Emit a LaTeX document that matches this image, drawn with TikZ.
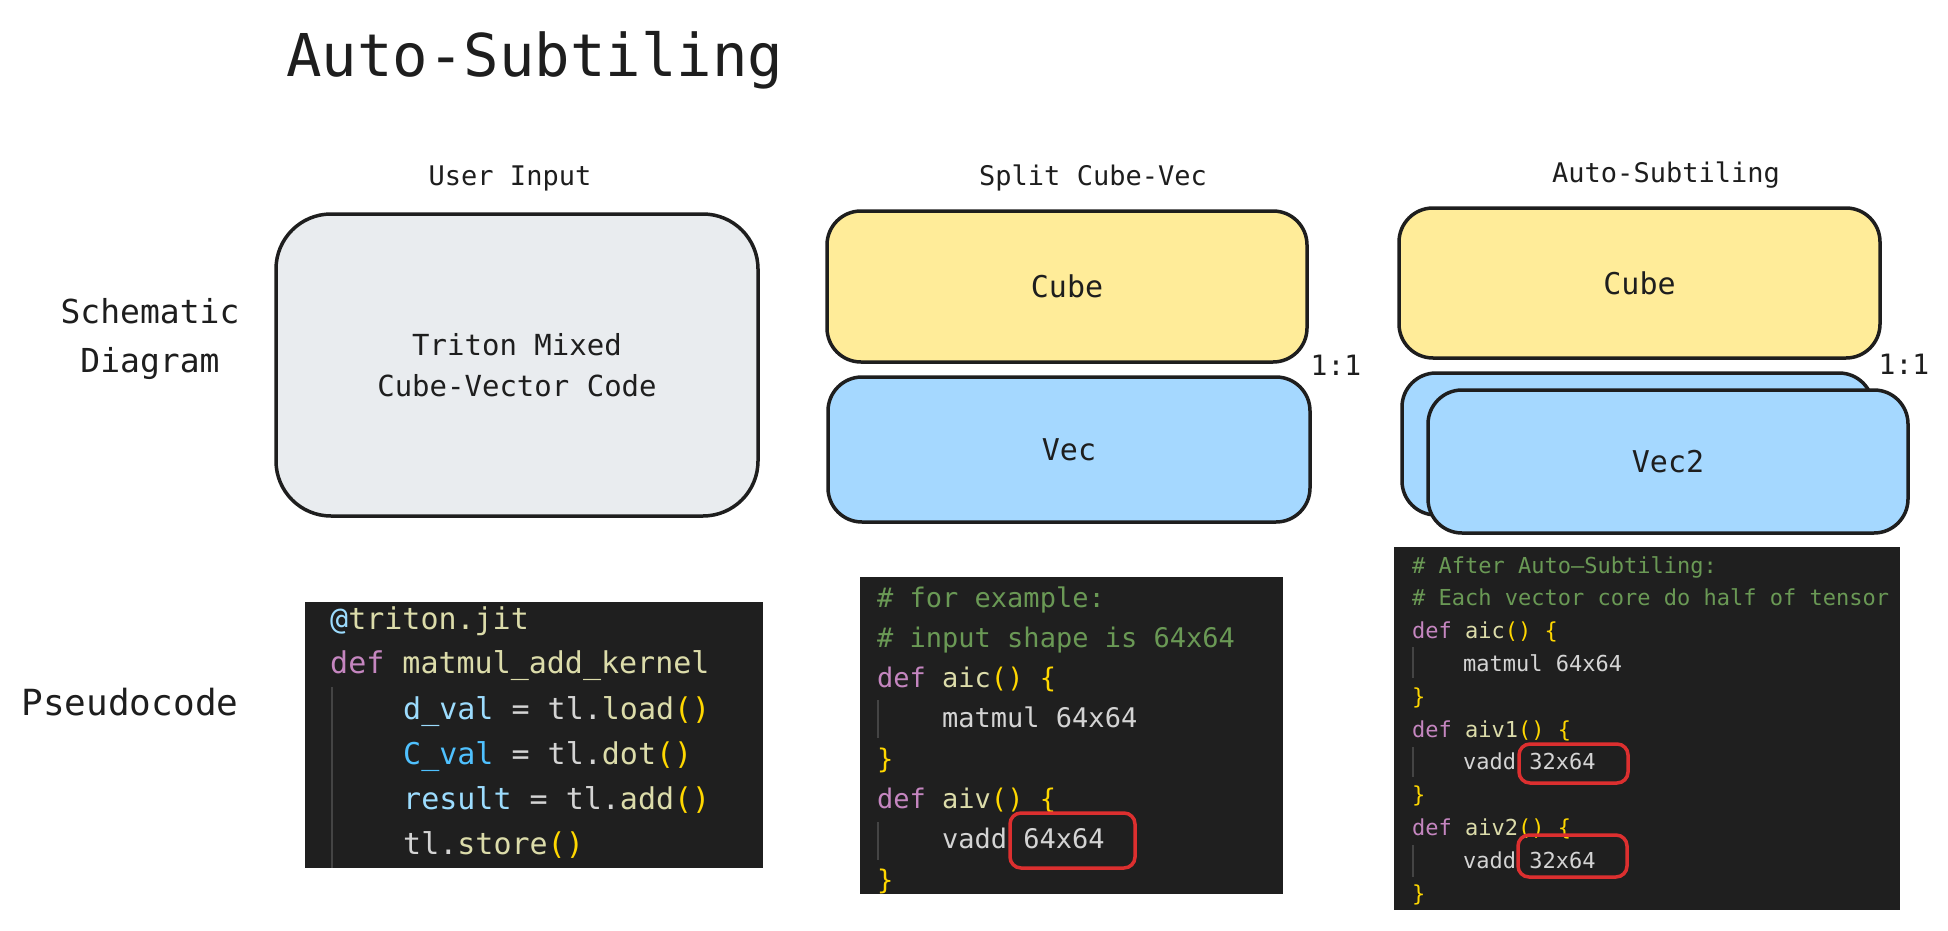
\documentclass[tikz,border=0pt]{standalone}
\usepackage{fontspec}
\setmainfont{DejaVu Sans Mono}
\newfontfamily\codefont{DejaVu Sans Mono}
\definecolor{ink}{HTML}{1E1E1E}
\definecolor{graybox}{HTML}{E9ECEF}
\definecolor{yellowbox}{HTML}{FFEC99}
\definecolor{bluebox}{HTML}{A5D8FF}
\definecolor{codebg}{HTML}{1F1F1F}
\definecolor{ccom}{HTML}{6A9955}
\definecolor{ckw}{HTML}{C586C0}
\definecolor{cfn}{HTML}{DCDCAA}
\definecolor{cvar}{HTML}{9CDCFE}
\definecolor{cconst}{HTML}{4FC1FF}
\definecolor{cbr}{HTML}{FFD700}
\definecolor{ctext}{HTML}{D4D4D4}
\definecolor{guide}{HTML}{444444}
\definecolor{redmark}{HTML}{DC2F2F}
\newcommand{\Kw}[1]{\textcolor{ckw}{#1}}
\newcommand{\Fn}[1]{\textcolor{cfn}{#1}}
\newcommand{\Vr}[1]{\textcolor{cvar}{#1}}
\newcommand{\Cn}[1]{\textcolor{cconst}{#1}}
\newcommand{\Br}[1]{\textcolor{cbr}{#1}}
\newcommand{\Cm}[1]{\textcolor{ccom}{#1}}
\begin{document}
\begin{tikzpicture}[x=1pt,y=-1pt,
  lbl/.style={text=ink, inner sep=0pt, align=center},
  sbox/.style={draw=ink, line width=3.5pt, rounded corners=34pt, inner sep=0pt, text=ink,
    font=\fontsize{30}{36}\selectfont},
  codeA/.style={anchor=base west, inner sep=0pt, text=ctext, font=\codefont\fontsize{30}{36}\selectfont},
  codeB/.style={anchor=base west, inner sep=0pt, text=ctext, font=\codefont\fontsize{27}{32}\selectfont},
  codeC/.style={anchor=base west, inner sep=0pt, text=ctext, font=\codefont\fontsize{22}{26}\selectfont},
  guideline/.style={draw=guide, line width=2pt},
  redbox/.style={draw=redmark, line width=3.5pt, rounded corners=11pt}
]
\useasboundingbox (0,0) rectangle (1948,931);
\fill[white] (0,0) rectangle (1948,931);

% title and labels
\node[lbl, anchor=base west, font=\fontsize{59}{70}\selectfont] (title) at (286,77) {Auto-Subtiling};
\node[lbl, font=\fontsize{27}{32}\selectfont] (h1) at (510,178) {User Input};
\node[lbl, font=\fontsize{27}{32}\selectfont] (h2) at (1093,178) {Split Cube-Vec};
\node[lbl, font=\fontsize{27}{32}\selectfont] (h3) at (1666,175) {Auto-Subtiling};
\node[lbl, font=\fontsize{33}{49}\selectfont] (r1) at (150,339) {Schematic\\Diagram};
\node[lbl, font=\fontsize{36}{42}\selectfont] (r2) at (130,702) {Pseudocode};

% schematic boxes
\node[sbox, fill=graybox, rounded corners=55pt, minimum width=482pt, minimum height=302pt,
  align=center, font=\fontsize{29}{41}\selectfont] (user) at (517,365) {Triton Mixed\\ Cube-Vector Code};
\node[sbox, fill=yellowbox, minimum width=480pt, minimum height=151pt] (cube1) at (1067,286.5) {Cube};
\node[sbox, fill=bluebox, minimum width=482pt, minimum height=145pt] (vec1) at (1069,449.5) {Vec};
\node[lbl, font=\fontsize{28}{34}\selectfont] (ratio1) at (1336,365) {1:1};

\node[sbox, fill=yellowbox, minimum width=481pt, minimum height=150pt] (cube2) at (1639.5,283) {Cube};
\node[sbox, fill=bluebox, minimum width=471pt, minimum height=142pt] (vecback) at (1637.5,444) {};
\node[sbox, fill=bluebox, minimum width=480pt, minimum height=143pt] (vec2) at (1668,461.5) {Vec2};
\node[lbl, font=\fontsize{28}{34}\selectfont] (ratio2) at (1904,364) {1:1};

% code block 1
\fill[codebg] (305,602) rectangle (763,868);
\draw[guideline] (332,687) -- (332,868);
\node[codeA] (a0) at (330,629) {\Vr{@}\Fn{triton.jit}};
\node[codeA] (a1) at (330,673) {\Kw{def} \Fn{matmul\_add\_kernel}};
\node[codeA] (a2) at (403,719) {\Vr{d\_val} = tl.\Fn{load}\Br{()}};
\node[codeA] (a3) at (403,764) {\Cn{C\_val} = tl.\Fn{dot}\Br{()}};
\node[codeA] (a4) at (403,809) {\Vr{result} = tl.\Fn{add}\Br{()}};
\node[codeA] (a5) at (403,854) {tl.\Fn{store}\Br{()}};

% code block 2
\fill[codebg] (860,577) rectangle (1283,894);
\draw[guideline] (878,700) -- (878,738);
\draw[guideline] (878,822) -- (878,860);
\node[codeB] (b0) at (877,607) {\Cm{\# for example:}};
\node[codeB] (b1) at (877,647.3) {\Cm{\# input shape is 64x64}};
\node[codeB] (b2) at (877,687.6) {\Kw{def} \Fn{aic}\Br{() \{}};
\node[codeB] (b3) at (942,727.9) {matmul 64x64};
\node[codeB] (b4) at (877,768.2) {\Br{\}}};
\node[codeB] (b5) at (877,808.5) {\Kw{def} \Fn{aiv}\Br{() \{}};
\node[codeB] (b6) at (942,848.8) {vadd 64x64};
\node[codeB] (b7) at (877,889.1) {\Br{\}}};
\draw[redbox] (1010,813) rectangle (1135,868);

% code block 3
\fill[codebg] (1394,547) rectangle (1900,910);
\draw[guideline] (1413,647) -- (1413,678);
\draw[guideline] (1413,747) -- (1413,777);
\draw[guideline] (1413,845) -- (1413,877);
\node[codeC] (c0) at (1412,573) {\Cm{\# After Auto–Subtiling:}};
\node[codeC] (c1) at (1412,605.8) {\Cm{\# Each vector core do half of tensor}};
\node[codeC] (c2) at (1412,638.6) {\Kw{def} \Fn{aic}\Br{() \{}};
\node[codeC] (c3) at (1463,671.4) {matmul 64x64};
\node[codeC] (c4) at (1412,704.2) {\Br{\}}};
\node[codeC] (c5) at (1412,737) {\Kw{def} \Fn{aiv1}\Br{() \{}};
\node[codeC] (c6) at (1463,769.8) {vadd 32x64};
\node[codeC] (c7) at (1412,802.6) {\Br{\}}};
\node[codeC] (c8) at (1412,835.4) {\Kw{def} \Fn{aiv2}\Br{() \{}};
\node[codeC] (c9) at (1463,868.2) {vadd 32x64};
\node[codeC] (c10) at (1412,901) {\Br{\}}};
\draw[redbox] (1519,744) rectangle (1628,783);
\draw[redbox] (1518,835) rectangle (1627,877);
\end{tikzpicture}
\end{document}
